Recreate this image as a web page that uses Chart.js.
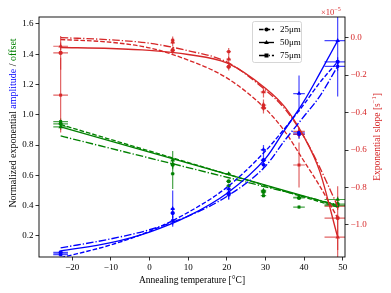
<!DOCTYPE html>
<html><head><meta charset="utf-8">
<script src="https://cdn.jsdelivr.net/npm/chart.js@4/dist/chart.umd.min.js"></script>
<style>html,body{margin:0;padding:0;background:#fff;}canvas{display:block;}</style>
</head><body>
<canvas id="c" width="391" height="293"></canvas>
<script>
// ---- data ----
const thicknesses = ['25\u03bcm', '50\u03bcm', '75\u03bcm'];
const temps   = [-23, 6, 20.5, 29.5, 38.7, 48.7];
const tempErr = [1.9, 0.5, 0.6, 0.7, 1.5, 3.4];

const amp25 = [0.09, 0.35, 0.48, 0.70, 0.88, 1.35];
const amp50 = [0.08, 0.38, 0.51, 0.77, 1.14, 1.49];
const amp75 = [0.075, 0.30, 0.47, 0.67, 0.87, 1.32];
const ampErr25 = [0.01, 0.03, 0.04, 0.04, 0.03, 0.03];
const ampErr50 = [0.01, 0.12, 0.03, 0.03, 0.12, 0.37];
const ampErr75 = [0.01, 0.03, 0.03, 0.03, 0.03, 0.03];

const off25 = [0.94, 0.67, 0.56, 0.49, 0.45, 0.41];
const off50 = [0.92, 0.70, 0.61, 0.50, 0.455, 0.44];
const off75 = [0.955, 0.61, 0.53, 0.465, 0.39, 0.40];
const offErr25 = [0.02, 0.02, 0.01, 0.01, 0.01, 0.02];
const offErr50 = [0.02, 0.06, 0.01, 0.01, 0.01, 0.02];
const offErr75 = [0.02, 0.10, 0.01, 0.01, 0.01, 0.02];

const slope25 = [-0.082, -0.067, -0.156, -0.375, -0.515, -0.963];
const slope50 = [-0.046, -0.025, -0.115, -0.29, -0.50, -1.065];
const slope75 = [-0.307, -0.014, -0.075, -0.36, -0.68, -0.90];
const slopeErr25 = [0.09, 0.02, 0.02, 0.03, 0.02, 0.17];
const slopeErr50 = [0.02, 0.02, 0.02, 0.03, 0.02, 0.12];
const slopeErr75 = [0.20, 0.02, 0.02, 0.03, 0.12, 0.02];

// fitted curves (read at these temperatures)
const fitT = [-23, -10, 0, 10, 20, 30, 35, 40, 44, 48.7];
const ampFit25 = [0.055, 0.14, 0.23, 0.355, 0.52, 0.76, 0.91, 1.07, 1.21, 1.35];
const ampFit50 = [0.10, 0.155, 0.225, 0.33, 0.48, 0.71, 0.90, 1.09, 1.27, 1.49];
const ampFit75 = [0.12, 0.18, 0.24, 0.33, 0.46, 0.66, 0.83, 0.99, 1.12, 1.32];
const slopeFit25 = [-0.01, -0.025, -0.055, -0.12, -0.215, -0.38, -0.50, -0.66, -0.79, -0.963];
const slopeFit50 = [-0.053, -0.058, -0.068, -0.09, -0.135, -0.27, -0.37, -0.53, -0.71, -1.065];
const slopeFit75 = [0.0, -0.012, -0.03, -0.07, -0.13, -0.28, -0.38, -0.53, -0.69, -0.90];
const offFitT = [-23, 48.7];
const offFit25 = [0.935, 0.39];
const offFit50 = [0.92, 0.40];
const offFit75 = [0.86, 0.405];

const xTicks = [-20, -10, 0, 10, 20, 30, 40, 50];
const yTicks = [0.2, 0.4, 0.6, 0.8, 1.0, 1.2, 1.4, 1.6];
const y2Ticks = [0.0, -0.2, -0.4, -0.6, -0.8, -1.0];

// ---- styles ----
const F = '"Liberation Serif", "DejaVu Serif", serif';
const BLUE = '#0000ff', GREEN = '#008000', RED = '#d62728';
const dashes = [[4.6, 2.0], [], [7.6, 2.0, 1.3, 2.0]];
const shapes = ['circle', 'triangle', 'rect'];

function pts(xs, ys) { return xs.map((x, i) => ({ x: x, y: ys[i] })); }
function rgba(hex, a) {
  const n = parseInt(hex.slice(1), 16);
  return `rgba(${n >> 16},${(n >> 8) & 255},${n & 255},${a})`;
}

const datasets = [];
function addFit(xs, ys, color, k, axis) {
  datasets.push({ data: pts(xs, ys), showLine: true, borderColor: color, borderWidth: 1.35,
    borderDash: dashes[k], pointRadius: 0, cubicInterpolationMode: 'monotone', yAxisID: axis, fill: false });
}
function addPts(ys, errs, color, k, axis) {
  datasets.push({ data: pts(temps, ys), showLine: false, pointStyle: shapes[k],
    pointRadius: k === 1 ? 2.6 : 2.1, backgroundColor: color, borderColor: color, borderWidth: 0,
    yAxisID: axis, errY: errs, errX: tempErr, errColor: rgba(color, 0.72) });
}
[[ampFit25, ampFit50, ampFit75], [slopeFit25, slopeFit50, slopeFit75]].forEach((set, si) => {
  set.forEach((ys, k) => addFit(fitT, ys, si === 0 ? BLUE : RED, k, si === 0 ? 'y' : 'y2'));
});
[offFit25, offFit50, offFit75].forEach((ys, k) => addFit(offFitT, ys, GREEN, k, 'y'));
[[amp25, ampErr25], [amp50, ampErr50], [amp75, ampErr75]].forEach((p, k) => addPts(p[0], p[1], BLUE, k, 'y'));
[[off25, offErr25], [off50, offErr50], [off75, offErr75]].forEach((p, k) => addPts(p[0], p[1], GREEN, k, 'y'));
[[slope25, slopeErr25], [slope50, slopeErr50], [slope75, slopeErr75]].forEach((p, k) => addPts(p[0], p[1], RED, k, 'y2'));

const errorBars = {
  id: 'errorBars',
  beforeDatasetsDraw(chart) {
    const ctx = chart.ctx, ca = chart.chartArea, xs = chart.scales.x;
    ctx.save();
    ctx.beginPath(); ctx.rect(ca.left, ca.top, ca.right - ca.left, ca.bottom - ca.top); ctx.clip();
    chart.data.datasets.forEach(ds => {
      if (!ds.errY) return;
      const ys = chart.scales[ds.yAxisID];
      ctx.strokeStyle = ds.errColor; ctx.lineWidth = 1.2;
      ds.data.forEach((p, j) => {
        const px = xs.getPixelForValue(p.x), py = ys.getPixelForValue(p.y);
        ctx.beginPath();
        ctx.moveTo(px, ys.getPixelForValue(p.y - ds.errY[j]));
        ctx.lineTo(px, ys.getPixelForValue(p.y + ds.errY[j]));
        ctx.moveTo(xs.getPixelForValue(p.x - ds.errX[j]), py);
        ctx.lineTo(xs.getPixelForValue(p.x + ds.errX[j]), py);
        ctx.stroke();
      });
    });
    ctx.restore();
  }
};

function drawParts(ctx, parts, cx, cy, font) {
  ctx.font = font;
  let total = 0;
  parts.forEach(p => { ctx.font = p.font || font; total += ctx.measureText(p.t).width; });
  let x = cx - total / 2;
  parts.forEach(p => {
    ctx.font = p.font || font; ctx.fillStyle = p.c;
    ctx.fillText(p.t, x, cy + (p.dy || 0));
    x += ctx.measureText(p.t).width;
  });
}

const decor = {
  id: 'decor',
  afterDraw(chart) {
    const ctx = chart.ctx, ca = chart.chartArea;
    ctx.save();
    ctx.strokeStyle = '#000'; ctx.lineWidth = 0.9;
    ctx.strokeRect(ca.left, ca.top, ca.right - ca.left, ca.bottom - ca.top);
    ctx.textBaseline = 'middle'; ctx.textAlign = 'left';
    const LF = '9.5px ' + F;
    drawParts(ctx, [{ t: 'Annealing temperature [\u00b0C]', c: '#000' }], (ca.left + ca.right) / 2, 280, LF);
    ctx.save(); ctx.translate(13, 123); ctx.rotate(-Math.PI / 2);
    drawParts(ctx, [{ t: 'Normalized exponential ', c: '#000' }, { t: 'amplitude', c: BLUE },
      { t: ' / ', c: '#000' }, { t: 'offset', c: GREEN }], 0, 0, '10px ' + F);
    ctx.restore();
    ctx.save(); ctx.translate(377, 137); ctx.rotate(-Math.PI / 2);
    drawParts(ctx, [{ t: 'Exponential slope [s', c: RED }, { t: '\u22121', c: RED, font: '6.5px ' + F, dy: -3 },
      { t: ']', c: RED }], 0, 0, LF);
    ctx.restore();
    ctx.textAlign = 'left';
    ctx.font = '8.5px ' + F; ctx.fillStyle = RED;
    ctx.fillText('\u00d710', 321, 13);
    const w = ctx.measureText('\u00d710').width;
    ctx.font = '6px ' + F; ctx.fillText('\u22125', 321 + w, 9);
    // legend
    const lx = 252.5, ly = 21.5, lw = 49, lh = 41;
    ctx.fillStyle = 'rgba(255,255,255,0.85)'; ctx.strokeStyle = '#cccccc'; ctx.lineWidth = 0.8;
    ctx.beginPath();
    if (ctx.roundRect) ctx.roundRect(lx, ly, lw, lh, 2); else ctx.rect(lx, ly, lw, lh);
    ctx.fill(); ctx.stroke();
    const rows = [29.5, 42.5, 55.5];
    thicknesses.forEach((label, k) => {
      const y = rows[k];
      ctx.strokeStyle = '#000'; ctx.lineWidth = 1.35; ctx.setLineDash(dashes[k]);
      ctx.beginPath(); ctx.moveTo(259, y); ctx.lineTo(274, y); ctx.stroke();
      ctx.setLineDash([]); ctx.fillStyle = '#000';
      const mx = 266.5;
      ctx.beginPath();
      if (k === 0) ctx.arc(mx, y, 2.1, 0, Math.PI * 2);
      else if (k === 1) { ctx.moveTo(mx, y - 2.6); ctx.lineTo(mx + 2.4, y + 1.6); ctx.lineTo(mx - 2.4, y + 1.6); ctx.closePath(); }
      else ctx.rect(mx - 2, y - 2, 4, 4);
      ctx.fill();
      ctx.font = '9px ' + F; ctx.textBaseline = 'middle';
      ctx.fillText(label, 280, y);
    });
    ctx.restore();
  }
};

const fmtX = v => (v < 0 ? '\u2212' : '') + Math.abs(v);
const fmtY = v => (v < -1e-9 ? '\u2212' : '') + Math.abs(v).toFixed(1);
const gridOpts = { drawOnChartArea: false, drawTicks: true, tickLength: 3.5, color: '#000', tickWidth: 0.8 };

new Chart(document.getElementById('c'), {
  type: 'scatter',
  data: { datasets: datasets },
  options: {
    responsive: false, animation: false, devicePixelRatio: 1,
    layout: { padding: { top: 17, left: 0, right: 0, bottom: 0 } },
    plugins: { legend: { display: false }, tooltip: { enabled: false } },
    scales: {
      x: { type: 'linear', min: -28.6, max: 50.6,
        afterBuildTicks: s => { s.ticks = xTicks.map(v => ({ value: v })); },
        afterFit: s => { s.height = 36; },
        grid: gridOpts, border: { display: false },
        ticks: { font: { family: F, size: 9 }, color: '#000', padding: 2, maxRotation: 0, autoSkip: false, callback: v => fmtX(v) } },
      y: { type: 'linear', position: 'left', min: 0.06, max: 1.646,
        afterBuildTicks: s => { s.ticks = yTicks.map(v => ({ value: v })); },
        afterFit: s => { s.width = 39; },
        grid: gridOpts, border: { display: false },
        ticks: { font: { family: F, size: 9 }, color: '#000', padding: 2, autoSkip: false, callback: v => fmtY(v) } },
      y2: { type: 'linear', position: 'right', min: -1.171, max: 0.110,
        afterBuildTicks: s => { s.ticks = y2Ticks.map(v => ({ value: v })); },
        afterFit: s => { s.width = 46; },
        grid: gridOpts, border: { display: false },
        ticks: { font: { family: F, size: 9 }, color: RED, padding: 2, autoSkip: false, callback: v => fmtY(v) } }
    }
  },
  plugins: [errorBars, decor]
});
</script>
</body></html>
